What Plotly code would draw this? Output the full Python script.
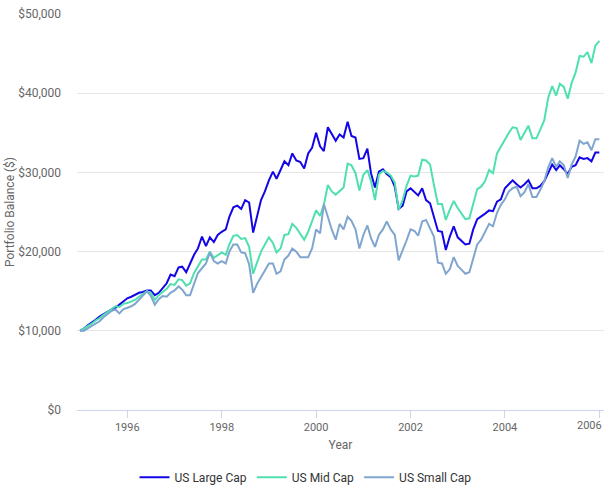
import pandas as pd
import plotly.graph_objects as go

start_month = "1995-01-01"
n_months = 133
dates = pd.date_range(start_month, periods=n_months, freq="MS")

us_large_cap = [
    10.0, 10.3, 10.7, 11.0, 11.4, 11.8, 12.1, 12.5, 12.7, 12.9, 13.3, 13.8,
    14.1, 14.3, 14.5, 14.8, 14.9, 15.1, 15.1, 14.5, 14.8, 15.4, 16.0, 17.1,
    16.9, 18.0, 18.1, 17.4, 18.6, 19.6, 20.4, 21.9, 20.7, 21.8, 21.2, 22.1,
    22.5, 22.8, 24.4, 25.6, 25.8, 25.4, 26.5, 26.2, 22.4, 24.3, 26.5, 27.6,
    29.0, 30.1, 29.2, 30.3, 31.4, 30.9, 32.4, 31.5, 31.3, 30.5, 32.4, 33.1,
    35.0, 33.3, 32.7, 35.7, 34.8, 34.0, 34.8, 34.4, 36.4, 34.6, 34.4, 31.7,
    31.8, 33.0, 29.9, 28.1, 30.1, 30.4, 29.8, 29.4, 28.2, 25.4, 25.8, 27.6,
    28.0, 27.5, 27.1, 28.0, 26.5, 26.1, 24.2, 22.6, 22.5, 20.2, 21.9, 23.2,
    21.8, 21.3, 20.9, 21.0, 22.8, 24.1, 24.4, 24.8, 25.2, 25.1, 26.3, 26.6,
    28.0, 28.5, 29.0, 28.5, 28.1, 28.5, 29.0, 28.0, 28.0, 28.3, 28.9, 29.9,
    31.0, 30.3, 30.9, 30.4, 29.8, 30.7, 30.9, 31.9, 31.7, 31.8, 31.4, 32.5,
    32.5,
]
us_mid_cap = [
    10.0, 10.3, 10.6, 10.9, 11.3, 11.6, 12.0, 12.4, 12.7, 13.1, 13.0, 13.4,
    13.5, 13.7, 13.9, 14.3, 14.6, 15.0, 14.8, 13.9, 14.5, 14.9, 15.3, 15.9,
    15.8, 16.5, 16.4, 15.7, 16.0, 17.3, 18.2, 19.0, 19.0, 20.0, 19.2, 19.5,
    19.9, 19.6, 20.9, 22.0, 22.1, 21.6, 21.7, 20.6, 17.2, 18.6, 20.0, 20.9,
    21.8, 21.1, 19.9, 20.4, 22.1, 22.2, 23.5, 23.0, 22.2, 21.5, 22.5, 23.8,
    25.2, 24.5, 25.9, 28.4, 27.6, 27.2, 27.6, 28.1, 31.1, 30.9, 29.9, 27.7,
    29.7, 30.3, 28.9, 26.5, 29.7, 30.2, 30.0, 29.6, 28.7, 25.3, 26.5, 28.3,
    29.6, 29.5, 29.6, 31.6, 31.5, 31.0, 28.4, 26.0, 26.0, 24.0, 25.3, 26.4,
    25.5, 24.7, 24.1, 24.2, 26.1, 27.9, 28.2, 28.9, 30.3, 29.9, 32.4, 33.3,
    34.1, 35.0, 35.7, 35.6, 34.1, 35.0, 35.9, 34.3, 34.3, 35.4, 36.6, 39.4,
    40.9, 39.7, 41.2, 40.8, 39.3, 41.3, 42.6, 44.7, 44.6, 45.2, 43.8, 46.0,
    46.6,
]
us_small_cap = [
    10.0, 10.0, 10.3, 10.6, 10.9, 11.2, 11.7, 12.1, 12.5, 12.7, 12.2, 12.7,
    12.9, 13.1, 13.4, 13.9, 14.4, 15.0, 14.4, 13.3, 14.0, 14.4, 14.3, 14.8,
    15.1, 15.6, 15.2, 14.5, 14.5, 15.8, 17.3, 17.9, 18.5, 19.9, 18.8, 18.5,
    18.8, 18.5, 20.0, 20.9, 20.9, 19.9, 19.8, 18.4, 14.8, 15.9, 16.7, 17.6,
    18.5, 18.5, 17.2, 17.5, 19.0, 19.5, 20.4, 20.0, 19.3, 19.3, 19.3, 20.4,
    22.8, 22.3, 26.0, 24.4, 22.8, 21.5, 23.5, 22.8, 24.4, 23.9, 22.8, 20.4,
    22.1, 23.3, 21.7, 20.6, 22.1, 22.8, 23.8, 22.8, 22.1, 18.9, 20.1, 21.4,
    22.8, 22.6, 22.0, 23.8, 24.0, 23.0, 21.9, 18.6, 18.5, 17.2, 17.8, 19.3,
    18.2, 17.7, 17.2, 17.4, 19.2, 20.9, 21.5, 22.5, 23.5, 23.2, 24.9, 25.9,
    26.6, 27.6, 28.0, 28.2, 27.0, 27.5, 28.5, 26.9, 26.9, 27.8, 28.9, 30.6,
    31.8, 30.7, 31.4, 30.9, 29.3, 31.0, 32.0, 34.0, 33.6, 33.8, 32.8, 34.2,
    34.2,
]

series_names = ["US Large Cap", "US Mid Cap", "US Small Cap"]
series_values = [us_large_cap, us_mid_cap, us_small_cap]
series_colors = ["#1405e8", "#4fe0ae", "#80a6cf"]

y_ticks = [0, 10000, 20000, 30000, 40000, 50000]
y_tick_labels = ["$0", "$10,000", "$20,000", "$30,000", "$40,000", "$50,000"]
x_ticks = ["1996-01-01", "1998-01-01", "2000-01-01", "2002-01-01", "2004-01-01", "2006-01-01"]
x_tick_labels = ["1996", "1998", "2000", "2002", "2004", "2006"]

fig = go.Figure()
for name, vals, color in zip(series_names, series_values, series_colors):
    fig.add_trace(go.Scatter(
        x=dates, y=[v * 1000 for v in vals], name=name, mode="lines",
        line=dict(color=color, width=2),
    ))

# The last tick label sits shifted left (as in the reference) so it is drawn as an annotation
axis_ticktext = x_tick_labels[:-1] + [""]
fig.add_annotation(
    x=x_ticks[-1], y=0, xref="x", yref="y", text=x_tick_labels[-1],
    showarrow=False, xanchor="center", yanchor="top", xshift=-10, yshift=-7,
    font=dict(size=11, color="#666666"),
)

font_family = "Roboto, Noto Sans, sans-serif"
fig.update_layout(
    width=611, height=504,
    margin=dict(l=77, r=7, t=14, b=94),
    paper_bgcolor="white", plot_bgcolor="white",
    font=dict(family=font_family, size=11, color="#666666"),
    showlegend=True,
    legend=dict(orientation="h", x=0.4336, xanchor="center", y=-0.17, yanchor="middle",
                font=dict(size=12, color="#333333"), itemwidth=30,
                traceorder="normal"),
    xaxis=dict(
        range=["1994-12-08", "2006-02-06"],
        tickvals=x_ticks, ticktext=axis_ticktext,
        showgrid=False, showline=True, linecolor="#ccd6eb", linewidth=1,
        ticks="outside", ticklen=7, tickcolor="#ccd6eb",
        tickfont=dict(size=11, color="#666666"),
        title=dict(text="Year", font=dict(size=12, color="#666666"), standoff=7),
        zeroline=False,
    ),
    yaxis=dict(
        range=[0, 50000],
        tickvals=y_ticks, ticktext=y_tick_labels,
        showgrid=True, gridcolor="#e6e6e6", gridwidth=1,
        showline=False, zeroline=False, ticks="",
        ticklabelstandoff=15, automargin=False,
        tickfont=dict(size=12, color="#666666"),
        title=dict(text="Portfolio Balance ($)", font=dict(size=12, color="#666666"), standoff=0),
    ),
)

fig.write_html("out.html", config={"displayModeBar": False},
               post_script="document.body.style.margin='0';document.body.style.overflow='hidden';")
